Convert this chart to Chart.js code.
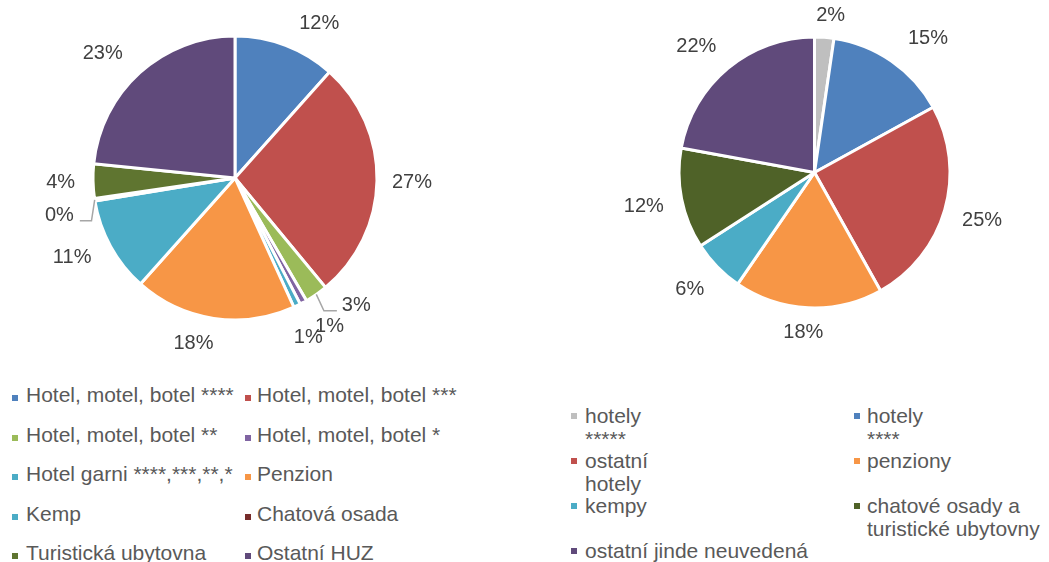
<!DOCTYPE html>
<html>
<head>
<meta charset="utf-8">
<script src="https://cdn.jsdelivr.net/npm/chart.js@4/dist/chart.umd.min.js"></script>
<style>
  html, body { margin: 0; padding: 0; background: #fff; }
  body { width: 1049px; height: 562px; position: relative; overflow: hidden;
         font-family: "Liberation Sans", Arial, sans-serif; }
  canvas { position: absolute; }
  #leftChart { left: 0; top: 0; }
  #rightChart { left: 570px; top: 0; }
  .legend { position: absolute; color: #595959; font-size: 21px; }
  .legend .item { position: relative; white-space: nowrap; }
  .legend .box { position: absolute; width: 6px; height: 6px; }
  #leftLegend { left: 0; top: 375px; line-height: 39.6px; }
  #leftLegend .item { height: 39.6px; }
  #leftLegend .box { left: 12px; top: 20px; }
  #leftLegend .item span.txt { position: absolute; left: 26px; }
  #leftLegend .col2 .box { left: 245px; }
  #leftLegend .col2 span.txt { left: 257px; }
  #rightLegend { left: 0; top: 405px; line-height: 22.5px; }
</style>
</head>
<body>
<canvas id="leftChart" width="480" height="370"></canvas>
<canvas id="rightChart" width="479" height="370"></canvas>
<div id="leftLegend" class="legend"></div>
<div id="rightLegend" class="legend"></div>
<script>
// --- data: left pie ---
const leftLabels = [
  'Hotel, motel, botel ****', 'Hotel, motel, botel ***', 'Hotel, motel, botel **',
  'Hotel, motel, botel *', 'Hotel garni ****,***,**,*', 'Penzion', 'Kemp',
  'Chatová osada', 'Turistická ubytovna', 'Ostatní HUZ'
];
const leftValues = [11.6, 27.4, 2.6, 0.8, 0.8, 18.4, 10.8, 0.3, 3.9, 23.4];
const leftColors = ['#4F81BD', '#C0504D', '#9BBB59', '#8064A2', '#4BACC6',
  '#F79646', '#4BACC6', '#772C2A', '#5F7530', '#604A7B'];

// --- data: right pie ---
const rightLabels = [
  ['hotely', '*****'], ['hotely', '****'], ['ostatní', 'hotely'], 'penziony',
  'kempy', ['chatové osady a', 'turistické ubytovny'], 'ostatní jinde neuvedená'
];
const rightValues = [2.3, 14.7, 24.9, 17.7, 6.3, 12.0, 22.1];
const rightColors = ['#BFBFBF', '#4F81BD', '#C0504D', '#F79646', '#4BACC6', '#4F6228', '#604A7B'];

// percentage labels outside the slices, Excel style
const pctLabels = {
  id: 'pctLabels',
  afterDatasetsDraw(chart, args, opts) {
    const ctx = chart.ctx;
    const meta = chart.getDatasetMeta(0);
    const data = chart.data.datasets[0].data;
    const total = data.reduce((a, b) => a + b, 0);
    const clamp = v => Math.max(-1, Math.min(1, v * 2));
    ctx.save();
    ctx.font = '20px "Liberation Sans", Arial, sans-serif';
    ctx.textAlign = 'center';
    ctx.textBaseline = 'middle';
    meta.data.forEach((arc, i) => {
      const p = arc.getProps(['x', 'y', 'startAngle', 'endAngle', 'outerRadius'], true);
      const mid = (p.startAngle + p.endAngle) / 2;
      const dx = Math.cos(mid), dy = Math.sin(mid);
      const text = Math.round(data[i] / total * 100) + '%';
      const hw = ctx.measureText(text).width / 2, hh = 9;
      const r = p.outerRadius + opts.gap;
      const n = (opts.nudge && opts.nudge[i]) || [0, 0];
      const lx = p.x + dx * r + hw * clamp(dx) + n[0];
      const ly = p.y + dy * r + hh * clamp(dy) + n[1];
      if (n[2]) {
        const ex = p.x + dx * p.outerRadius, ey = p.y + dy * p.outerRadius;
        const by = ly + 6;
        const bx = ex + (by - ey) * dx * Math.abs(dy);
        const endX = lx > ex ? lx - hw - 5 : lx + hw + 6;
        ctx.strokeStyle = '#A6A6A6';
        ctx.lineWidth = 1.5;
        ctx.beginPath();
        ctx.moveTo(ex, ey);
        ctx.lineTo(bx, by);
        ctx.lineTo(endX, by);
        ctx.stroke();
      }
      ctx.fillStyle = '#404040';
      ctx.fillText(text, lx, ly + 1);
    });
    ctx.restore();
  }
};

function makePie(id, labels, values, colors, radius, padding, labelOpts) {
  return new Chart(document.getElementById(id), {
    type: 'pie',
    data: {
      labels: labels,
      datasets: [{
        data: values,
        backgroundColor: colors,
        borderColor: '#FFFFFF',
        borderWidth: 3
      }]
    },
    options: {
      responsive: false,
      animation: false,
      radius: radius,
      layout: { padding: padding },
      plugins: {
        legend: { display: false },
        tooltip: { enabled: false },
        pctLabels: labelOpts
      }
    },
    plugins: [pctLabels]
  });
}

makePie('leftChart', leftLabels, leftValues, leftColors, 142,
  { left: 0, right: 10, top: 0, bottom: 14 },
  { gap: 15, nudge: { 0: [14, 0], 2: [17, -11, true], 3: [5, 1], 4: [-8, 8],
    5: [-12, 0], 6: [-6, -6], 7: [-6, 10, true], 8: [-3, 0], 9: [-7, 0] } });

makePie('rightChart', rightLabels, rightValues, rightColors, 135.5,
  { left: 10, right: 0, top: 0, bottom: 25 },
  { gap: 18, nudge: { 0: [3, 4], 1: [6, 0], 3: [-2, -3] } });

// --- HTML legends ---
const leftLegend = document.getElementById('leftLegend');
for (let i = 0; i < leftLabels.length; i += 2) {
  const row = document.createElement('div');
  row.className = 'item';
  [i, i + 1].forEach((k, c) => {
    const cell = document.createElement('span');
    cell.className = c ? 'col2' : 'col1';
    cell.innerHTML = '<span class="box" style="background:' + leftColors[k] + '"></span>' +
      '<span class="txt">' + leftLabels[k] + '</span>';
    row.appendChild(cell);
  });
  leftLegend.appendChild(row);
}

const rightLegend = document.getElementById('rightLegend');
const rightCols = [[571, 585], [854, 867]];
let rowTop = 0;
for (let i = 0; i < rightLabels.length; i += 2) {
  let lines = 1;
  [i, i + 1].forEach((k, c) => {
    if (k >= rightLabels.length) return;
    const lab = [].concat(rightLabels[k]);
    lines = Math.max(lines, lab.length);
    const box = document.createElement('span');
    box.className = 'box';
    box.style.background = rightColors[k];
    box.style.left = rightCols[c][0] + 'px';
    box.style.top = (rowTop + 8) + 'px';
    const txt = document.createElement('div');
    txt.style.position = 'absolute';
    txt.style.left = rightCols[c][1] + 'px';
    txt.style.top = rowTop + 'px';
    txt.style.whiteSpace = 'nowrap';
    txt.innerHTML = lab.join('<br>');
    rightLegend.appendChild(box);
    rightLegend.appendChild(txt);
  });
  rowTop += lines * 22.5;
}
</script>
</body>
</html>
